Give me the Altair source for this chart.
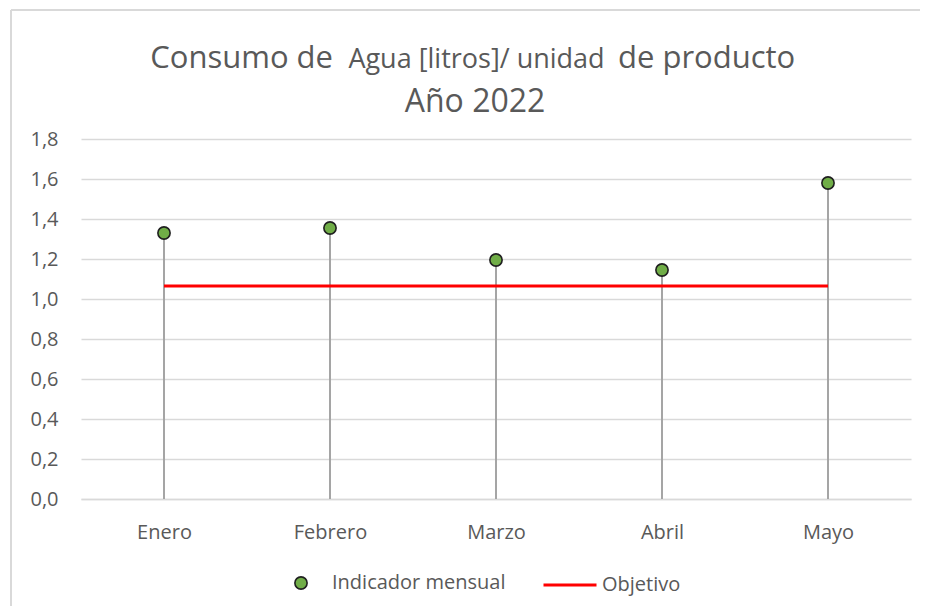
import altair as alt
import pandas as pd

meses = ["Enero", "Febrero", "Marzo", "Abril", "Mayo"]
indicador = [1.33, 1.355, 1.195, 1.145, 1.58]
objetivo = [1.065, 1.065, 1.065, 1.065, 1.065]
y_ticks = [0.0, 0.2, 0.4, 0.6, 0.8, 1.0, 1.2, 1.4, 1.6, 1.8]

df = pd.DataFrame({
    "mes": meses,
    "valor": indicador,
    "objetivo": objetivo,
    "serie": ["Indicador mensual"] * len(meses),
    "serie2": ["Objetivo"] * len(meses),
})

FONT = "Open Sans"
TXT = "#595959"
W, H = 830, 360

x_enc = alt.X("mes:N", sort=meses, title=None,
              scale=alt.Scale(type="point", padding=0.5),
              axis=alt.Axis(labelFontSize=20, labelColor=TXT, labelFont=FONT,
                            labelPadding=23, ticks=False, tickSize=0,
                            domainColor="#D9D9D9", domainWidth=1.5,
                            labelAngle=0, grid=False))

y_scale = alt.Scale(domain=[0, 1.8], nice=False, zero=True)
y_axis = alt.Axis(values=y_ticks, labelExpr="replace(format(datum.value, '.1f'), '.', ',')",
                  labelFontSize=20, labelColor=TXT, labelFont=FONT, labelPadding=23,
                  labelOverlap=False, ticks=False, domain=False,
                  gridColor="#D9D9D9", gridWidth=1.5, title=None)

base = alt.Chart(df)
one = pd.DataFrame({"k": [0]})

frame_top = alt.Chart(one).mark_rule(color="#D9D9D9", strokeWidth=2).encode(
    x=alt.value(-70), x2=alt.value(839), y=alt.value(-129))
frame_left = alt.Chart(one).mark_rule(color="#D9D9D9", strokeWidth=2).encode(
    x=alt.value(-70), y=alt.value(-129), y2=alt.value(467))

drops = base.mark_rule(color="#A5A5A5", strokeWidth=2).encode(
    x=x_enc,
    y=alt.Y("valor:Q", scale=y_scale, axis=y_axis),
    y2=alt.datum(0),
)

linea = base.mark_line(strokeWidth=3).encode(
    x=x_enc,
    y=alt.Y("objetivo:Q", scale=y_scale, axis=y_axis),
    stroke=alt.Stroke("serie2:N", scale=alt.Scale(domain=["Objetivo"], range=["#FF0000"]),
                      legend=alt.Legend(title=None, orient="none", legendX=461, legendY=418,
                                        symbolType="stroke", symbolSize=2809, symbolStrokeWidth=3,
                                        labelOffset=4, labelFontSize=20, labelColor=TXT,
                                        labelFont=FONT, padding=0, labelLimit=300)),
)

puntos = base.mark_point(filled=True, size=150, stroke="#1F1F1F", strokeWidth=1.6, opacity=1).encode(
    x=x_enc,
    y=alt.Y("valor:Q", scale=y_scale, axis=y_axis),
    fill=alt.Fill("serie:N", scale=alt.Scale(domain=["Indicador mensual"], range=["#70AD47"]),
                  legend=alt.Legend(title=None, orient="none", legendX=210, legendY=434,
                                    symbolType="circle", symbolSize=150, symbolStrokeColor="#1F1F1F",
                                    symbolStrokeWidth=1.6, symbolFillColor="#70AD47",
                                    labelOffset=21, labelFontSize=20, labelColor=TXT,
                                    labelFont=FONT, padding=0, labelLimit=300)),
)

titulos = pd.DataFrame({
    "t": ["Consumo de", "Agua [litros]/ unidad", "de producto", "Año 2022"],
})

def titulo(i, x, y, size, align):
    return alt.Chart(titulos.iloc[[i]]).mark_text(
        font=FONT, fontSize=size, color=TXT, align=align, baseline="alphabetic"
    ).encode(text="t:N", x=alt.value(x), y=alt.value(y))

t1 = titulo(0, 252, -71, 31, "right")
t2 = titulo(1, 395.5, -71, 27, "center")
t3 = titulo(2, 537, -71, 31, "left")
t4 = titulo(3, 394, -27, 32, "center")

chart = alt.layer(frame_top, frame_left, drops, linea, puntos, t1, t2, t3, t4).properties(
    width=W, height=H,
    autosize=alt.AutoSizeParams(type="none"),
    padding={"left": 73, "top": 131, "right": 9, "bottom": 107},
    background="white",
).configure_view(strokeWidth=0, stroke="transparent")

chart.save("out.html", embed_options={"renderer": "svg", "actions": False})
